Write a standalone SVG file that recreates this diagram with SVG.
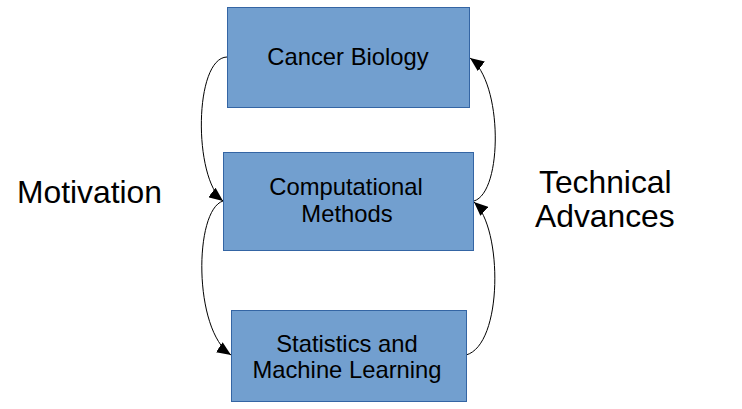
<svg xmlns="http://www.w3.org/2000/svg" width="742" height="409" viewBox="0 0 742 409">
<style>
.box{fill:#729fcf;stroke:#3465a4;stroke-width:1}
.bt{font-family:"Liberation Sans",Arial,sans-serif;font-size:23.8px;fill:#000;text-anchor:middle}
.lbl{font-family:"Liberation Sans",Arial,sans-serif;font-size:31.8px;fill:#000}
.con{fill:none;stroke:#000;stroke-width:1}
</style>
<defs>
<marker id="ah" viewBox="0 0 14 12" refX="14" refY="6" markerWidth="14" markerHeight="12" markerUnits="userSpaceOnUse" orient="auto">
<path d="M0,0 L14,6 L0,12 Z" fill="#000"/>
</marker>
</defs>
<rect width="742" height="409" fill="#fff"/>
<g id="connectors">
<path class="con" d="M227,57 C194,58 193,178 223,201" marker-end="url(#ah)"/>
<path class="con" d="M223,201 C194,210 193,330 231,355" marker-end="url(#ah)"/>
<path class="con" d="M466,355 C503,345 503,228 474,202" marker-end="url(#ah)"/>
<path class="con" d="M474,201 C503,192 503,82 470,58" marker-end="url(#ah)"/>
</g>
<g id="cancer-biology">
<rect class="box" x="227.5" y="7.5" width="242" height="100"/>
<text class="bt" x="348" y="65">Cancer Biology</text>
</g>
<g id="computational-methods">
<rect class="box" x="223.5" y="152.5" width="250" height="98"/>
<text class="bt" x="346" y="195">Computational</text>
<text class="bt" x="347" y="222">Methods</text>
</g>
<g id="statistics-ml">
<rect class="box" x="231.5" y="310.5" width="235" height="91"/>
<text class="bt" x="347" y="352">Statistics and</text>
<text class="bt" x="347" y="378">Machine Learning</text>
</g>
<g id="motivation">
<text class="lbl" x="17" y="203">Motivation</text>
</g>
<g id="technical-advances">
<text class="lbl" x="539" y="193">Technical</text>
<text class="lbl" x="535" y="227">Advances</text>
</g>
</svg>
